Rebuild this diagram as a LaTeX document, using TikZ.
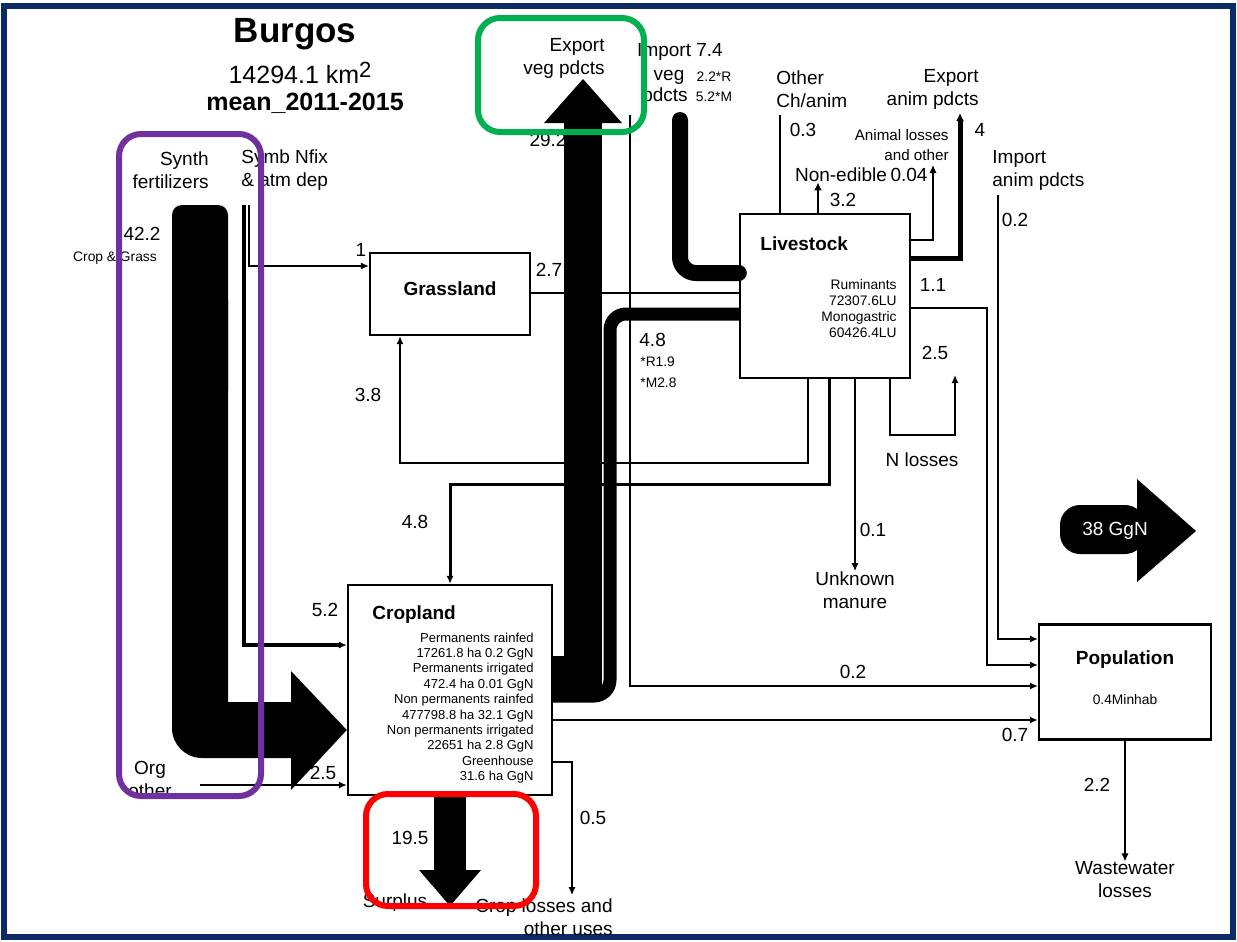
\documentclass[tikz,border=0pt]{standalone}
\usepackage{fontspec}
\setmainfont{Liberation Sans}
\usepackage{tikz}
\usetikzlibrary{arrows.meta, positioning}
\definecolor{framecol}{HTML}{0B2A66}
\definecolor{purplebox}{HTML}{7030A0}
\definecolor{greenbox}{HTML}{00B050}
\definecolor{redbox}{HTML}{FF0000}

\begin{document}
\begin{tikzpicture}[x=0.5pt,y=-0.5pt]
 \tikzstyle{pool}=[rectangle,draw=black,line width=1.2pt,inner sep=0pt]
 \tikzstyle{lbl}=[font=\fontsize{9.5}{11.5}\selectfont,inner sep=0pt]
 \tikzstyle{sml}=[font=\fontsize{6.5}{7.7}\selectfont,inner sep=0pt]
 \tikzstyle{ttl}=[font=\fontsize{9.5}{11}\selectfont\bfseries,inner sep=0pt]
 \tikzstyle{flowthin}=[line width=0.6pt]
 \tikzstyle{flowmid}=[line width=1.2pt]
 \tikzstyle{arr}=[-{Latex[length=4pt,width=3.6pt]}]
 \tikzstyle{hilite}=[rounded corners=11pt,line width=3pt]

 \useasboundingbox (0,0) rectangle (1237,942);
 \draw[line width=3pt,draw=framecol] (4,6) rectangle (1233,937);

 % title
 \node (burgos) [font=\fontsize{17.5}{20}\selectfont\bfseries,inner sep=0pt] at (295,34) {Burgos};
 \node (area) [font=\fontsize{12.5}{14}\selectfont,inner sep=0pt] at (300,73)
   {14294.1 km\raisebox{.45ex}{\fontsize{11}{11}\selectfont 2}};
 \node (period) [font=\fontsize{12.5}{14}\selectfont\bfseries,inner sep=0pt] at (305,103) {mean\_2011-2015};

 % pools
 \node (grass) [pool,minimum width=80pt,minimum height=41pt] at (450,294) {};
 \node (live) [pool,minimum width=85pt,minimum height=82pt] at (825,296) {};
 \node (crop) [pool,minimum width=102pt,minimum height=105pt] at (450,690) {};
 \node (pop) [pool,minimum width=86pt,minimum height=57.5pt] at (1125,682) {};

 \node (grassttl) [ttl] at (450,289) {Grassland};
 \node (livettl) [ttl,anchor=west] at (760,244) {Livestock};
 \node (livedata) [sml,font=\fontsize{6.9}{8}\selectfont,align=right,anchor=east] at (897,309)
   {Ruminants\\72307.6LU\\Monogastric\\60426.4LU};
 \node (cropttl) [ttl,anchor=west] at (372,615) {Cropland};
 \node (cropdata) [sml,align=right,anchor=east] at (534,708)
   {Permanents rainfed\\17261.8 ha 0.2 GgN\\Permanents irrigated\\472.4 ha 0.01 GgN\\
    Non permanents rainfed\\477798.8 ha 32.1 GgN\\Non permanents irrigated\\22651 ha 2.8 GgN\\
    Greenhouse\\31.6 ha GgN};
 \node (popttl) [ttl] at (1125,660) {Population};
 \node (popdata) [sml,font=\fontsize{6.9}{8}\selectfont] at (1125,700) {0.4Minhab};

 % sources and sinks
 \node (synth) [lbl,align=right,anchor=east] at (209,170) {Synth\\fertilizers};
 \node (symb) [lbl,align=left,anchor=west] at (241,170) {Symb Nfix\\\& atm dep};
 \node (org) [lbl,align=center] at (150,779) {Org\\other};
 \node (expveg) [lbl,align=right,anchor=east] at (605,58) {Export\\veg pdcts};
 \node (impvegA) [lbl] at (680,52) {Import 7.4};
 \node (impvegB) [lbl] at (669,77) {veg};
 \node (impvegC) [lbl] at (665,97) {pdcts};
 \node (impvegR) [sml,font=\fontsize{6.9}{8}\selectfont] at (714,77) {2.2*R};
 \node (impvegM) [sml,font=\fontsize{6.9}{8}\selectfont] at (714,97) {5.2*M};
 \node (other) [lbl,align=left,anchor=west] at (776,89) {Other\\Ch/anim};
 \node (nonedible) [lbl] at (841,175) {Non-edible};
 \node (animloss) [lbl,font=\fontsize{7.6}{10}\selectfont,align=right,anchor=east] at (949,145) {Animal losses\\and other};
 \node (expanim) [lbl,align=right,anchor=east] at (979,89) {Export\\anim pdcts};
 \node (impanim) [lbl,align=left,anchor=west] at (992,170) {Import\\anim pdcts};
 \node (nloss) [lbl] at (922,460) {N losses};
 \node (unk) [lbl,align=center] at (855,590) {Unknown\\manure};
 \node (waste) [lbl,align=center] at (1125,880) {Wastewater\\losses};
 \node (surplus) [lbl] at (395,903) {Surplus};
 \node (croploss) [lbl,align=right,anchor=east] at (613,917) {Crop losses and\\other uses};

 % values
 \node (vA) [lbl] at (142,234) {42.2};
 \node (vAb) [sml,font=\fontsize{6.9}{8}\selectfont] at (115,258) {Crop \& Grass};
 \node (vB) [lbl] at (361,250) {1};
 \node (vC) [lbl] at (325,610) {5.2};
 \node (vD) [lbl] at (323,773) {2.5};
 \node (vE) [lbl] at (549,270) {2.7};
 \node (vF) [lbl] at (368,395) {3.8};
 \node (vG) [lbl] at (415,522) {4.8};
 \node (vH) [lbl,anchor=west] at (639,340) {4.8};
 \node (vHr) [sml,font=\fontsize{6.9}{8}\selectfont,anchor=west] at (640,362) {*R1.9};
 \node (vHm) [sml,font=\fontsize{6.9}{8}\selectfont,anchor=west] at (640,383) {*M2.8};
 \node (vI) [lbl] at (548,140) {29.2};
 \node (vJ) [lbl] at (803,130) {0.3};
 \node (vK) [lbl] at (843,200) {3.2};
 \node (vL) [lbl] at (909,175) {0.04};
 \node (vM) [lbl] at (980,130) {4};
 \node (vN) [lbl] at (1015,220) {0.2};
 \node (vO) [lbl] at (933,285) {1.1};
 \node (vP) [lbl] at (935,353) {2.5};
 \node (vQ) [lbl] at (873,530) {0.1};
 \node (vR) [lbl] at (853,672) {0.2};
 \node (vS) [lbl] at (1015,735) {0.7};
 \node (vT) [lbl] at (1097,785) {2.2};
 \node (vU) [lbl] at (410,838) {19.5};
 \node (vV) [lbl] at (593,818) {0.5};

 % free ends
 \coordinate (symbtop) at (244,205);
 \coordinate (symbtopb) at (249,205);
 \coordinate (orgend) at (200,785);
 \coordinate (impvegtop) at (680,120);
 \coordinate (impvegthin) at (630,115);
 \coordinate (othertop) at (780,115);
 \coordinate (impanimtop) at (998,195);
 \coordinate (nlossend) at (955,375);
 \coordinate (cropend) at (572,895);

 % thin and mid flows
 \draw[flowthin,arr] (symbtopb) |- (grass.west |- 0,266);
 \draw[line width=2pt,arr] (symbtop) |- (crop.west |- 0,645);
 \draw[line width=1.1pt,arr] (orgend) -- (crop.west |- 0,785);
 \draw[flowmid] (grass.east |- 0,293) -- (live.west |- 0,293);
 \draw[flowmid,arr] (808,0 |- live.south) -- (808,463) -| (400,0 |- grass.south);
 \draw[line width=1.5pt,arr] (829,0 |- live.south) -- (829,484) -| (450,0 |- crop.north);
 \draw[flowthin,arr] (855,0 |- live.south) -- (unk.north);
 \draw[flowmid,arr] (890,0 |- live.south) -- (890,435) -| (nlossend);
 \draw[flowthin,arr] (live.east |- 0,308) -| (987,665) -- (pop.west |- 0,665);
 \draw[flowthin,arr] (impanimtop) |- (pop.west |- 0,639);
 \draw[flowthin,arr] (impvegthin) |- (pop.west |- 0,686);
 \draw[line width=1pt,arr] (crop.east |- 0,720) -- (pop.west |- 0,720);
 \draw[flowthin,arr] (pop.south) -- (waste.north);
 \draw[flowthin,arr] (crop.east |- 0,762) -| (cropend);
 \draw[flowthin] (othertop) -- (780,0 |- live.north);
 \draw[line width=1pt,-{Latex[length=4pt,width=4pt]}] (818,0 |- live.north) -- (nonedible.south -| 818,0);
 \draw[flowthin,arr] (live.east |- 0,240) -| (933,165);
 \draw[line width=2.5pt,-{Latex[length=4pt,width=4pt]}] (live.east |- 0,258) -| (960,113);

 % thick bands
 \draw[line width=8pt,line cap=round,rounded corners=8pt] (impvegtop) |- (live.west |- 0,273);
 \draw[line width=6.5pt,rounded corners=8pt] (live.west |- 0,314) -| (610,696) -- (crop.east |- 0,696);
 \draw[line width=19pt] (crop.east |- 0,675) -| (583,122);
 \fill (544,123) -- (583,79) -- (622,123) -- cycle;
 \fill[rounded corners=5pt] (172,205) rectangle (228,400);
 \fill (228,300) -- (228,702) -- (291,702) -- (291,671) -- (crop.west |- 0,730)
   -- (291,790) -- (291,758) [rounded corners=15pt] -- (172,758) [sharp corners]
   -- (172,300) -- cycle;
 \fill (434,0 |- crop.south) rectangle (466,870);
 \fill (419,870) -- (450,906) -- (481,870) -- cycle;

 % total
 \fill[rounded corners=10pt] (1060,505) rectangle (1145,554);
 \fill (1137,479) -- (1196,531) -- (1137,582) -- cycle;
 \node (total) [lbl,text=white] at (1115,531) {38 GgN};

 % highlights
 \draw[hilite,draw=purplebox] (119,134) rectangle (261,796);
 \draw[hilite,draw=greenbox] (478,18) rectangle (644,132);
 \draw[hilite,draw=redbox] (366,794) rectangle (536,906);
\end{tikzpicture}
\end{document}
